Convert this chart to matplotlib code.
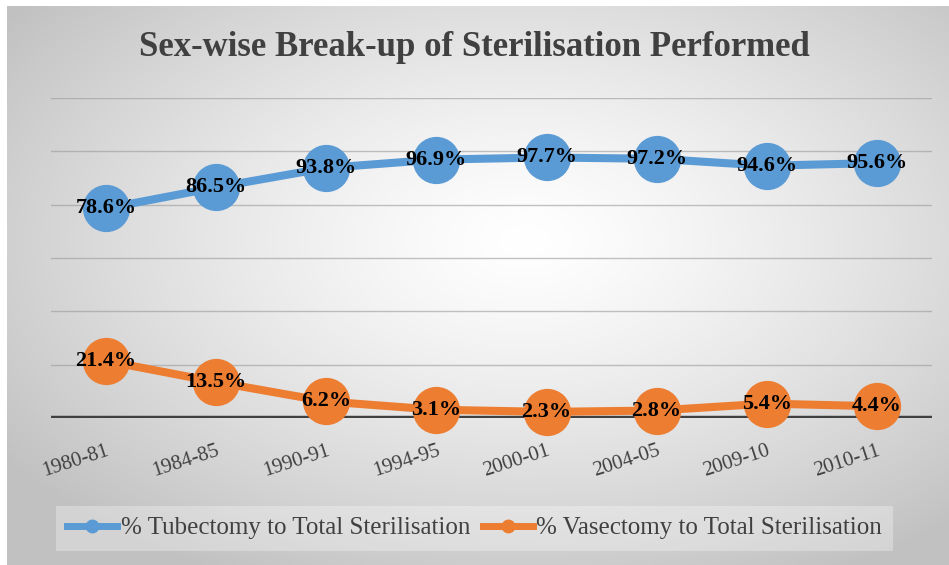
import numpy as np
import matplotlib.pyplot as plt
from matplotlib.lines import Line2D

years = ["1980-81", "1984-85", "1990-91", "1994-95", "2000-01", "2004-05", "2009-10", "2010-11"]
tubectomy = [78.6, 86.5, 93.8, 96.9, 97.7, 97.2, 94.6, 95.6]
vasectomy = [21.4, 13.5, 6.2, 3.1, 2.3, 2.8, 5.4, 4.4]
yticks = [0, 20, 40, 60, 80, 100, 120]

blue = "#5B9BD5"
orange = "#ED7D31"
serif = ["Liberation Serif", "DejaVu Serif"]

fig = plt.figure(figsize=(9.49, 5.65), dpi=100)
fig.patch.set_facecolor("white")

# radial gradient background
bg = fig.add_axes([7 / 949, 0, 1 - 7 / 949, 1 - 6 / 565], zorder=-5)
yy, xx = np.mgrid[0:1:300j, 0:1:500j]
r = np.sqrt(((xx - 0.55) / 0.75) ** 2 + ((yy - 0.42) / 0.75) ** 2)
shade = 1.0 - 0.24 * np.clip(r / 0.9, 0, 1) ** 1.3
bg.imshow(np.dstack([shade] * 3), aspect="auto", extent=[0, 1, 0, 1], origin="upper")
bg.axis("off")

ax = fig.add_axes([51 / 949, 1 - 418 / 565, (932 - 51) / 949, (418 - 98) / 565])
ax.set_facecolor("none")
x = np.arange(len(years))

for yv in yticks[1:]:
    ax.axhline(yv, color="#9a9a9a", lw=1, alpha=0.6, zorder=1)
ax.axhline(0, color="#404040", lw=3.2, zorder=2)

ax.plot(x, tubectomy, color=blue, lw=5.8, marker="o", ms=33, zorder=3, clip_on=False)
ax.plot(x, vasectomy, color=orange, lw=5.8, marker="o", ms=33, zorder=3, clip_on=False)

for xi, v in zip(x, tubectomy):
    ax.text(xi, v, f"{v:.1f}%", ha="center", va="center", fontsize=16,
            fontweight="bold", family=serif, color="black", zorder=4)
for xi, v in zip(x, vasectomy):
    ax.text(xi, v, f"{v:.1f}%", ha="center", va="center", fontsize=16,
            fontweight="bold", family=serif, color="black", zorder=4)

ax.set_xlim(-0.5, len(years) - 0.5)
ax.set_ylim(0, 120)
ax.set_yticks([])
ax.set_xticks(x)
ax.set_xticklabels(years, rotation=18, ha="right", rotation_mode="anchor",
                   fontsize=15, family=serif, color="#404040")
ax.tick_params(axis="x", length=0, pad=17)
for s in ax.spines.values():
    s.set_visible(False)

fig.text(0.5, 1 - 47 / 565, "Sex-wise Break-up of Sterilisation Performed",
         ha="center", va="center", fontsize=25, fontweight="bold",
         family=serif, color="#404040")

handles = [
    Line2D([], [], color=blue, lw=5, marker="o", ms=9),
    Line2D([], [], color=orange, lw=5, marker="o", ms=9),
]
leg = fig.legend(handles, ["% Tubectomy to Total Sterilisation", "% Vasectomy to Total Sterilisation"],
                 loc="center", bbox_to_anchor=(0.5, 1 - 528 / 565), ncol=2,
                 prop={"family": serif, "size": 18}, frameon=True,
                 handlelength=2.0, handletextpad=0.15, columnspacing=0.5,
                 borderpad=0.45, labelcolor="#404040")
leg.get_frame().set_facecolor("white")
leg.get_frame().set_alpha(0.3)
leg.get_frame().set_edgecolor("none")
leg.get_frame().set_boxstyle("square", pad=0)

fig.savefig("out.png", dpi=100)
